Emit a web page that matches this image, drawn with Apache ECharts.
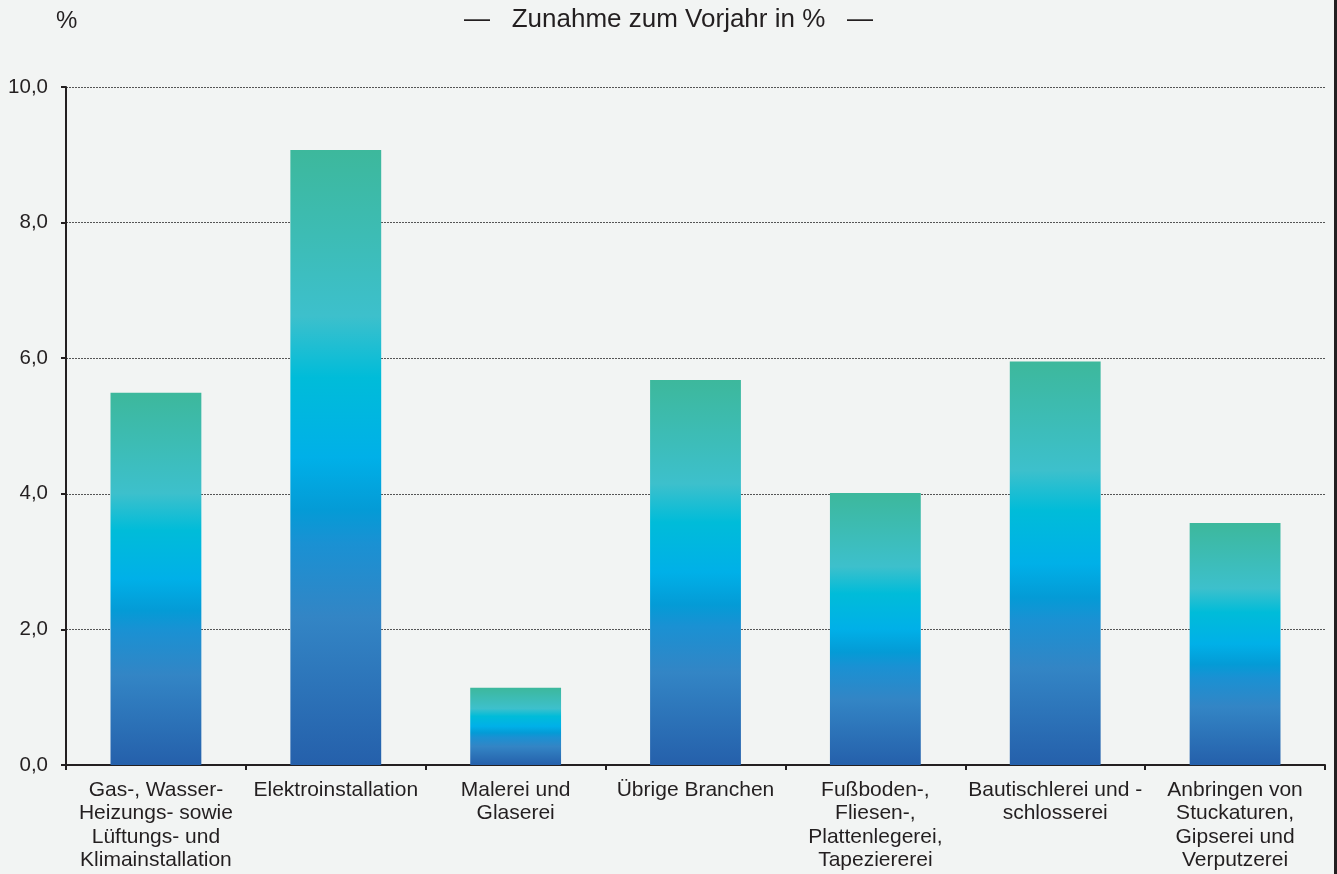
<!DOCTYPE html>
<html>
<head>
<meta charset="utf-8">
<script src="https://cdn.jsdelivr.net/npm/echarts@6/dist/echarts.min.js"></script>
<style>
  html, body { margin: 0; padding: 0; background: #f2f4f3; }
  #chart { width: 1337px; height: 874px; }
</style>
</head>
<body>
<div id="chart"></div>
<script>
// Kategorien (Beschriftung mit Zeilenumbruch wie im Original)
const categories = [
  "Gas-, Wasser-\nHeizungs- sowie\nLüftungs- und\nKlimainstallation",
  "Elektroinstallation",
  "Malerei und\nGlaserei",
  "Übrige Branchen",
  "Fußboden-,\nFliesen-,\nPlattenlegerei,\nTapeziererei",
  "Bautischlerei und -\nschlosserei",
  "Anbringen von\nStuckaturen,\nGipserei und\nVerputzerei"
];
// Zunahme zum Vorjahr in %
const values = [5.49, 9.07, 1.14, 5.68, 4.01, 5.95, 3.57];
const yTicks = { min: 0, max: 10, interval: 2 };

const textColor = "#231f20";
const font = "'Liberation Sans', Arial, sans-serif";

// Farbverlauf je Balken (oben grün-türkis, unten dunkelblau)
const barGradient = new echarts.graphic.LinearGradient(0, 0, 0, 1, [
  { offset: 0, color: "#3db89c" },
  { offset: 0.27, color: "#3dc0cc" },
  { offset: 0.37, color: "#00bcd9" },
  { offset: 0.5, color: "#00b0e8" },
  { offset: 0.585, color: "#049bd6" },
  { offset: 0.64, color: "#1a91d3" },
  { offset: 0.76, color: "#3385c5" },
  { offset: 1, color: "#2560ab" },
]);

const chart = echarts.init(document.getElementById("chart"), null, { renderer: "canvas" });

chart.setOption({
  backgroundColor: "#f2f4f3",
  animation: false,
  textStyle: { fontFamily: font, color: textColor },
  title: {
    text: "—   Zunahme zum Vorjahr in %   —",
    left: "center",
    top: 2,
    textStyle: { fontFamily: font, fontSize: 26, fontWeight: "normal", color: textColor },
  },
  graphic: [
    {
      type: "text",
      left: 56,
      top: 9,
      style: { text: "%", font: "24px " + font, fill: textColor },
    },
    {
      type: "rect",
      right: 0,
      top: 0,
      shape: { width: 3, height: 874 },
      style: { fill: "#231f20" },
    },
  ],
  grid: { left: 66, right: 12, top: 87, bottom: 109, containLabel: false },
  xAxis: {
    type: "category",
    data: categories,
    axisLine: { show: true, lineStyle: { color: textColor, width: 2 } },
    axisTick: { show: true, length: 5, lineStyle: { color: textColor, width: 2 } },
    axisLabel: {
      interval: 0,
      margin: 13,
      fontSize: 21,
      lineHeight: 23.5,
      color: textColor,
      fontFamily: font,
    },
  },
  yAxis: {
    type: "value",
    min: yTicks.min,
    max: yTicks.max,
    interval: yTicks.interval,
    axisLine: { show: true, lineStyle: { color: textColor, width: 2 } },
    axisTick: { show: true, length: 5, lineStyle: { color: textColor, width: 2 } },
    axisLabel: {
      margin: 18,
      fontSize: 20.5,
      color: textColor,
      fontFamily: font,
      formatter: (v) => v.toFixed(1).replace(".", ","),
    },
    splitLine: { show: true, lineStyle: { color: "#555", width: 1, type: [2, 1] } },
  },
  series: [
    {
      type: "bar",
      data: values,
      barWidth: "50.5%",
      itemStyle: { color: barGradient },
    },
  ],
});
</script>
</body>
</html>
